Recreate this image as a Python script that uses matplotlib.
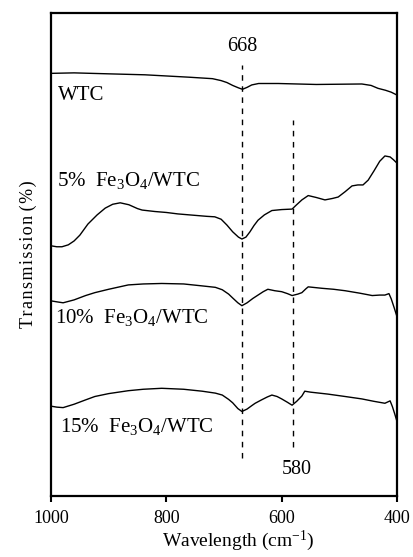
import matplotlib
matplotlib.use("Agg")
import matplotlib.pyplot as plt

# FTIR spectra (arbitrary transmission units, curves offset)
wtc_w = [1000, 960, 900, 837, 760, 720, 705, 695, 685, 675, 668, 660, 652, 640, 606, 540,
         461, 445, 433, 420, 410, 400]
wtc_t = [87.5, 87.6, 87.4, 87.2, 86.7, 86.4, 86.0, 85.6, 85.0, 84.5, 84.2, 84.6, 85.1, 85.4,
         85.4, 85.2, 85.3, 85.0, 84.4, 84.0, 83.6, 83.0]

fe5_w = [1000, 990, 981, 970, 960, 950, 936, 920, 906, 893, 880, 865, 850, 842, 820, 800,
         780, 750, 730, 716, 705, 695, 685, 675, 669, 662, 655, 648, 641, 630, 617, 600,
         582, 575, 565, 554, 540, 525, 512, 502, 490, 478, 468, 459, 450, 440, 430, 421,
         412, 406, 400]
fe5_t = [51.8, 51.6, 51.6, 52.0, 52.8, 54.0, 56.3, 58.2, 59.6, 60.4, 60.7, 60.3, 59.5, 59.2,
         58.9, 58.7, 58.4, 58.1, 57.9, 57.8, 57.3, 56.1, 54.7, 53.6, 53.2, 53.6, 54.7, 56.0,
         57.1, 58.2, 59.1, 59.3, 59.4, 60.2, 61.3, 62.2, 61.8, 61.3, 61.6, 61.9, 63.0, 64.2,
         64.4, 64.4, 65.4, 67.3, 69.3, 70.4, 70.2, 69.6, 68.9]

fe10_w = [1000, 990, 979, 960, 940, 924, 900, 866, 840, 808, 770, 738, 715, 703, 692, 685,
          676, 669, 660, 650, 641, 632, 624, 612, 600, 590, 582, 572, 565, 558, 554, 530,
          510, 490, 465, 443, 430, 421, 414, 410, 405, 400]
fe10_t = [40.4, 40.2, 40.0, 40.6, 41.5, 42.1, 42.8, 43.7, 43.9, 44.0, 43.9, 43.5, 43.2, 42.7,
          41.8, 41.0, 40.0, 39.4, 40.0, 40.9, 41.6, 42.3, 42.8, 42.5, 42.3, 41.9, 41.5, 41.8,
          42.1, 42.9, 43.3, 43.0, 42.8, 42.5, 42.0, 41.5, 41.6, 41.6, 41.9, 40.8, 39.0, 37.1]

fe15_w = [1000, 990, 979, 960, 940, 924, 900, 866, 840, 808, 770, 738, 715, 703, 692, 685,
          676, 669, 660, 652, 646, 635, 625, 617, 608, 600, 590, 582, 574, 565, 560, 550,
          520, 490, 461, 440, 421, 412, 408, 404, 400]
fe15_t = [18.6, 18.4, 18.3, 19.0, 19.9, 20.6, 21.2, 21.8, 22.1, 22.3, 22.1, 21.7, 21.3, 20.9,
          20.0, 19.3, 18.1, 17.5, 18.0, 18.7, 19.2, 19.9, 20.5, 20.9, 20.6, 20.1, 19.4, 18.8,
          19.6, 20.7, 21.7, 21.5, 21.1, 20.6, 20.1, 19.6, 19.2, 19.7, 18.5, 17.0, 15.4]

labels = ["WTC",
          r"5%  Fe$\mathregular{_3}$O$\mathregular{_4}$/WTC",
          r"10%  Fe$\mathregular{_3}$O$\mathregular{_4}$/WTC",
          r"15%  Fe$\mathregular{_3}$O$\mathregular{_4}$/WTC"]
label_pos = [(988, 82.0), (990, 64.2), (993, 35.9), (984, 13.2)]

peaks = [668, 580]
peak_spans = [(7.9, 89.2), (10.1, 77.8)]
peak_text_pos = [(668, 92.2), (574, 4.5)]

xticks = [1000, 800, 600, 400]

plt.rcParams["font.family"] = ["Liberation Serif", "DejaVu Serif"]
plt.rcParams["mathtext.fontset"] = "custom"
plt.rcParams["mathtext.rm"] = "Liberation Serif"
FS = 13
FS_LAB = 15

fig = plt.figure(figsize=(4.14, 5.57), dpi=100)
ax = fig.add_axes([0.1232, 0.1095, 0.959 - 0.1232, 0.9767 - 0.1095])

for w, t in [(wtc_w, wtc_t), (fe5_w, fe5_t), (fe10_w, fe10_t), (fe15_w, fe15_t)]:
    ax.plot(w, t, color="black", linewidth=1.0)

for p, (y0, y1) in zip(peaks, peak_spans):
    ax.plot([p, p], [y0, y1], color="black", linewidth=1.0, linestyle=(0, (4, 4)))

for p, (x, y) in zip(peaks, peak_text_pos):
    ax.text(x, y, str(p), ha="center", va="baseline", fontsize=14.5)

for lab, (x, y) in zip(labels, label_pos):
    ax.text(x, y, lab, ha="left", va="baseline", fontsize=FS_LAB)

ax.set_xlim(1000, 400)
ax.set_ylim(0, 100)
ax.set_xticks(xticks)
ax.set_xticklabels([str(v) for v in xticks], fontsize=FS)
ax.set_yticks([])
ax.tick_params(axis="x", direction="out", length=4, width=1.5, pad=6)
for s in ax.spines.values():
    s.set_linewidth(1.6)

ax.set_xlabel(r"Wavelength (cm$\mathregular{^{-1}}$)", fontsize=14, labelpad=4)
ax.xaxis.set_label_coords(0.54, -0.068)
ylab = "\u200a".join("Transmission") + " (\u200a%\u200a)"
ax.set_ylabel(ylab, fontsize=FS, labelpad=10)

fig.savefig("out.png", dpi=100)
